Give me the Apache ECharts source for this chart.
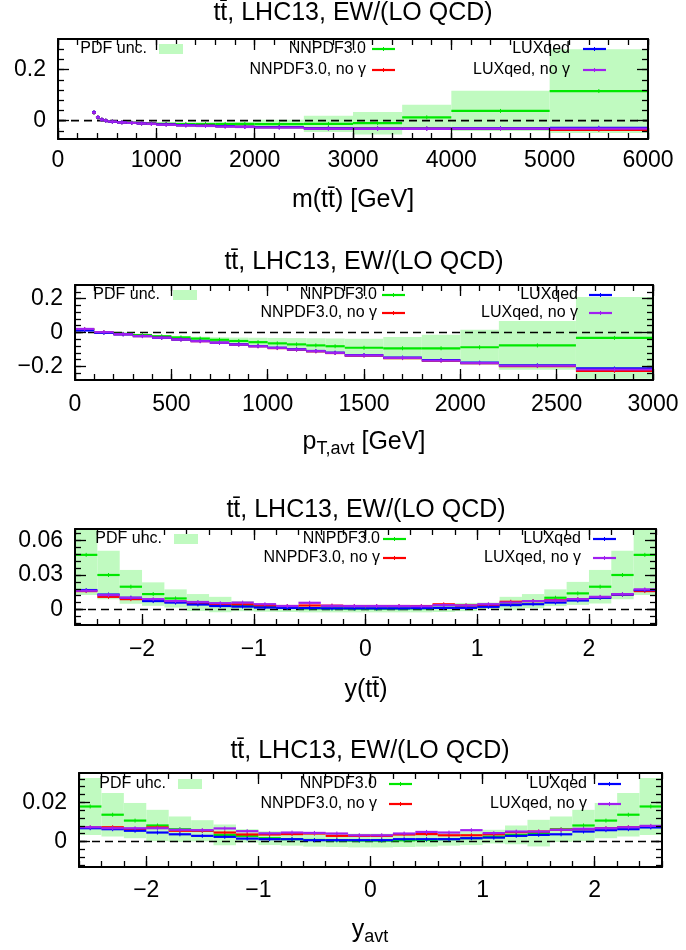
<!DOCTYPE html>
<html><head><meta charset="utf-8">
<script src="https://cdn.jsdelivr.net/npm/echarts@6/dist/echarts.min.js"></script>
<style>html,body{margin:0;padding:0;background:#fff}#c{width:686px;height:950px}</style>
</head><body><div id="c"></div>
<script>
// ---------- Panel 1 : m(tt) ----------
const mEdges   = [346,386,426,466,506,600,700,800,900,1000,1200,1400,1600,1800,2000,2500,3000,3500,4000,5000,6000];
const mNNPDF   = [0.031,0.012,0.004,0.000,-0.004,-0.006,-0.008,-0.010,-0.011,-0.012,-0.013,-0.013,-0.013,-0.013,-0.014,-0.013,-0.010,0.013,0.038,0.116];
const mNNPDFng = [0.032,0.013,0.004,0.000,-0.004,-0.007,-0.009,-0.011,-0.012,-0.015,-0.018,-0.020,-0.022,-0.024,-0.026,-0.030,-0.031,-0.031,-0.031,-0.036];
const mLUX     = [0.033,0.013,0.004,0.000,-0.004,-0.007,-0.009,-0.011,-0.012,-0.015,-0.018,-0.020,-0.022,-0.024,-0.026,-0.030,-0.031,-0.031,-0.030,-0.028];
const mLUXng   = [0.032,0.013,0.004,0.000,-0.004,-0.007,-0.009,-0.011,-0.013,-0.016,-0.019,-0.021,-0.023,-0.025,-0.027,-0.031,-0.032,-0.032,-0.031,-0.031];
const mBandLo  = [0.029,0.010,0.002,-0.002,-0.006,-0.008,-0.010,-0.012,-0.013,-0.015,-0.017,-0.018,-0.019,-0.021,-0.031,-0.045,-0.054,-0.036,-0.041,-0.048];
const mBandHi  = [0.033,0.014,0.006,0.002,-0.002,-0.004,-0.006,-0.008,-0.009,-0.009,-0.009,-0.008,-0.007,-0.005,0.003,0.019,0.034,0.062,0.117,0.280];
const mXTicks  = [0,1000,2000,3000,4000,5000,6000];
const mXLabels = ['0','1000','2000','3000','4000','5000','6000'];
const mYTicks  = [0,0.2];
const mYLabels = ['0','0.2'];

// ---------- Panel 2 : pT,avt ----------
const pEdges   = [0,100,200,300,400,500,600,700,800,900,1000,1100,1200,1300,1400,1600,1800,2000,2200,2600,3000];
const pNNPDF   = [0.018,0.000,-0.008,-0.015,-0.022,-0.029,-0.036,-0.043,-0.050,-0.057,-0.064,-0.070,-0.076,-0.081,-0.090,-0.093,-0.093,-0.087,-0.076,-0.032];
const pNNPDFng = [0.020,0.001,-0.010,-0.021,-0.031,-0.041,-0.051,-0.061,-0.071,-0.081,-0.092,-0.101,-0.111,-0.121,-0.136,-0.151,-0.166,-0.181,-0.198,-0.226];
const pLUX     = [0.012,-0.002,-0.011,-0.021,-0.031,-0.041,-0.050,-0.060,-0.070,-0.080,-0.090,-0.099,-0.109,-0.119,-0.133,-0.148,-0.163,-0.178,-0.193,-0.212];
const pLUXng   = [0.021,0.002,-0.010,-0.021,-0.031,-0.041,-0.051,-0.061,-0.071,-0.081,-0.091,-0.100,-0.110,-0.120,-0.135,-0.150,-0.165,-0.180,-0.196,-0.218];
const pBandLo  = [0.015,-0.003,-0.011,-0.020,-0.029,-0.038,-0.047,-0.058,-0.070,-0.083,-0.096,-0.107,-0.118,-0.127,-0.143,-0.159,-0.173,-0.190,-0.220,-0.273];
const pBandHi  = [0.021,0.003,-0.005,-0.010,-0.015,-0.020,-0.025,-0.028,-0.030,-0.031,-0.032,-0.033,-0.034,-0.035,-0.037,-0.027,-0.013,0.016,0.068,0.209];
const pXTicks  = [0,500,1000,1500,2000,2500,3000];
const pXLabels = ['0','500','1000','1500','2000','2500','3000'];
const pYTicks  = [-0.2,0,0.2];
const pYLabels = ['\u22120.2','0','0.2'];

// ---------- Panel 3 : y(tt) ----------
const yEdges   = [-2.6,-2.4,-2.2,-2.0,-1.8,-1.6,-1.4,-1.2,-1.0,-0.8,-0.6,-0.4,-0.2,0,0.2,0.4,0.6,0.8,1.0,1.2,1.4,1.6,1.8,2.0,2.2,2.4,2.6];
const yNNPDF   = [0.0475,0.030,0.0198,0.0134,0.0096,0.006,0.0043,0.003,0.0023,0.0014,0.001,0.0008,0.0007,0.0007,0.0008,0.001,0.0014,0.0022,0.0032,0.0052,0.0073,0.0102,0.014,0.0198,0.030,0.0475];
const yNNPDFng = [0.016,0.011,0.009,0.008,0.0067,0.0052,0.0046,0.0045,0.0035,0.003,0.0035,0.0033,0.003,0.003,0.003,0.003,0.0045,0.0035,0.0038,0.0067,0.0073,0.008,0.009,0.0105,0.013,0.016];
const yLUX     = [0.0169,0.013,0.0102,0.0073,0.006,0.0043,0.003,0.0025,0.0017,0.0014,0.0012,0.001,0.001,0.001,0.001,0.0012,0.0014,0.0014,0.0023,0.0038,0.0046,0.006,0.0078,0.0102,0.013,0.0169];
const yLUXng   = [0.0163,0.0125,0.0102,0.009,0.0073,0.0065,0.0055,0.006,0.0046,0.003,0.0058,0.0032,0.003,0.003,0.003,0.0028,0.0038,0.0035,0.0046,0.006,0.0073,0.0078,0.009,0.011,0.0134,0.0175];
const yBandLo  = [0.0125,0.009,0.005,0.0032,0.0017,-0.0014,-0.0024,-0.0015,-0.002,-0.0022,-0.0025,-0.0025,-0.0025,-0.0025,-0.0025,-0.0025,-0.0022,-0.0015,0.0004,-0.0006,0.0012,0.0029,0.004,0.0052,0.009,0.0125];
const yBandHi  = [0.0825,0.051,0.0344,0.0236,0.0175,0.0134,0.011,0.0073,0.005,0.0038,0.0035,0.0033,0.0032,0.0032,0.0033,0.0035,0.0044,0.0057,0.006,0.011,0.0134,0.0175,0.024,0.0344,0.051,0.0825];
const yXTicks  = [-2,-1,0,1,2];
const yXLabels = ['\u22122','\u22121','0','1','2'];
const yYTicks  = [0,0.03,0.06];
const yYLabels = ['0','0.03','0.06'];

// ---------- Panel 4 : y_avt ----------
const aEdges   = [-2.6,-2.4,-2.2,-2.0,-1.8,-1.6,-1.4,-1.2,-1.0,-0.8,-0.6,-0.4,-0.2,0,0.2,0.4,0.6,0.8,1.0,1.2,1.4,1.6,1.8,2.0,2.2,2.4,2.6];
const aNNPDF   = [0.0179,0.0137,0.0107,0.0082,0.0063,0.0055,0.0034,0.0029,0.0017,0.0012,0.0008,0.0006,0.0005,0.0005,0.0006,0.0008,0.0012,0.0017,0.0025,0.0034,0.0043,0.0063,0.0082,0.0107,0.0137,0.0179];
const aNNPDFng = [0.0072,0.0073,0.0063,0.0072,0.0055,0.0055,0.0046,0.0036,0.0036,0.0038,0.0041,0.0029,0.0029,0.0029,0.0036,0.0038,0.0032,0.0032,0.0037,0.0048,0.0051,0.006,0.0063,0.0068,0.0073,0.0077];
const aLUX     = [0.0068,0.0063,0.0055,0.0046,0.0037,0.0029,0.0024,0.0015,0.0012,0.0012,0.0007,0.0007,0.0007,0.0007,0.0012,0.0012,0.0012,0.0017,0.002,0.0029,0.0034,0.0037,0.0051,0.0058,0.0063,0.0072];
const aLUXng   = [0.0073,0.0068,0.0068,0.0068,0.006,0.0058,0.0067,0.0053,0.0042,0.0046,0.0044,0.0041,0.0032,0.0032,0.0041,0.0049,0.0046,0.0058,0.0043,0.0051,0.0051,0.006,0.0065,0.0068,0.0073,0.008];
const aBandLo  = [0.0033,0.0026,0.0017,0.0002,-0.0002,0.0001,-0.0019,-0.0005,-0.0018,-0.0021,-0.0026,-0.0028,-0.003,-0.003,-0.0028,-0.0026,-0.0021,-0.0018,-0.001,-0.0014,-0.0025,-0.0002,0.0002,0.0017,0.0026,0.0033];
const aBandHi  = [0.0325,0.0248,0.0197,0.0162,0.0128,0.0109,0.0087,0.0063,0.0052,0.0045,0.0042,0.004,0.004,0.004,0.004,0.0042,0.0045,0.0052,0.006,0.0082,0.0111,0.0128,0.0162,0.0197,0.0248,0.0325];
const aXTicks  = [-2,-1,0,1,2];
const aXLabels = ['\u22122','\u22121','0','1','2'];
const aYTicks  = [0,0.02];
const aYLabels = ['0','0.02'];

const legendNames = ['PDF unc.','NNPDF3.0','NNPDF3.0, no \u03b3','LUXqed','LUXqed, no \u03b3'];
const titleText = 'tt\u0304, LHC13, EW/(LO QCD)';

// ---------- styling / layout ----------
const FONT = '"Liberation Sans", Arial, Helvetica, sans-serif';
const BAND = 'rgb(192,250,192)';
const COLORS = {g:'#00e800', r:'#ff0000', b:'#0000ff', p:'#a020f0'};
const TICK_FS = 23, TITLE_FS = 25, NAME_FS = 25, LEG_FS = 16;

function range(a,b,s){const o=[];const n=Math.round((b-a)/s);for(let i=0;i<=n;i++)o.push(+(a+i*s).toFixed(6));return o;}

const panels = [
  {edges:mEdges,g:mNNPDF,r:mNNPDFng,b:mLUX,p:mLUXng,lo:mBandLo,hi:mBandHi,
   grid:{left:58,top:39,width:590,height:100},xr:[0,6000],yr:[-0.072,0.32],
   xT:mXTicks,xL:mXLabels,xM:range(0,6000,200),yT:mYTicks,yL:mYLabels,yM:range(-0.04,0.28,0.04),
   xMargin:10,title:[353,13],name:[353,200],nameRich:'{a|m(tt\u0304) [GeV]}',
   leg:{r1:49,r2:70,pdfR:147,box:159,nnR:366,nnS:372,luxR:570,luxS:583}},
  {edges:pEdges,g:pNNPDF,r:pNNPDFng,b:pLUX,p:pLUXng,lo:pBandLo,hi:pBandHi,
   grid:{left:75,top:285,width:578,height:95},xr:[0,3000],yr:[-0.28,0.28],
   xT:pXTicks,xL:pXLabels,xM:range(0,3000,100),yT:pYTicks,yL:pYLabels,yM:range(-0.24,0.24,0.04),
   xMargin:13,title:[364,262],name:[364,442],nameRich:'{a|p}{s|T,avt}{a| [GeV]}',
   leg:{r1:295,r2:313,pdfR:160,box:173,nnR:377,nnS:382,luxR:578,luxS:589}},
  {edges:yEdges,g:yNNPDF,r:yNNPDFng,b:yLUX,p:yLUXng,lo:yBandLo,hi:yBandHi,
   grid:{left:75,top:529,width:581,height:96},xr:[-2.6,2.6],yr:[-0.0135,0.07],
   xT:yXTicks,xL:yXLabels,xM:range(-2.6,2.6,0.2),yT:yYTicks,yL:yYLabels,yM:range(-0.012,0.066,0.006),
   xMargin:13,title:[366,510],name:[366,690],nameRich:'{a|y(tt\u0304)}',
   leg:{r1:539,r2:558,pdfR:162,box:174,nnR:380,nnS:383,luxR:581,luxS:593}},
  {edges:aEdges,g:aNNPDF,r:aNNPDFng,b:aLUX,p:aLUXng,lo:aBandLo,hi:aBandHi,
   grid:{left:79,top:773,width:583,height:94},xr:[-2.6,2.6],yr:[-0.013,0.035],
   xT:aXTicks,xL:aXLabels,xM:range(-2.6,2.6,0.2),yT:aYTicks,yL:aYLabels,yM:range(-0.012,0.032,0.004),
   xMargin:12,title:[370,751],name:[370,930],nameRich:'{a|y}{s|avt}',
   leg:{r1:784,r2:804,pdfR:166,box:178,nnR:377,nnS:389,luxR:587,luxS:598}}
];

function labelFor(ticks,labels){return v=>{for(let i=0;i<ticks.length;i++){if(Math.abs(v-ticks[i])<1e-9)return labels[i];}return '';};}

const grids=[],xAxes=[],yAxes=[],series=[],graphics=[];
const tickLine={color:'#000',width:1.3};
panels.forEach((P,gi)=>{
  grids.push(Object.assign({containLabel:false},P.grid));
  const xi=xAxes.length, yi=yAxes.length;
  const baseX={gridIndex:gi,type:'value',min:P.xr[0],max:P.xr[1],splitLine:{show:false},offset:0,z:20};
  const baseY={gridIndex:gi,type:'value',min:P.yr[0],max:P.yr[1],splitLine:{show:false},offset:0,z:20};
  xAxes.push(Object.assign({},baseX,{position:'bottom',
    axisLine:{show:true,onZero:false,lineStyle:{color:'#000',width:2}},
    axisTick:{show:true,inside:true,length:11,customValues:P.xT,lineStyle:tickLine},
    axisLabel:{show:true,customValues:P.xT,formatter:labelFor(P.xT,P.xL),margin:P.xMargin,fontSize:TICK_FS,color:'#000',fontFamily:FONT}}));
  xAxes.push(Object.assign({},baseX,{position:'bottom',axisLine:{show:false,onZero:false},
    axisTick:{show:true,inside:true,length:6,customValues:P.xM,lineStyle:tickLine},axisLabel:{show:false}}));
  xAxes.push(Object.assign({},baseX,{position:'top',
    axisLine:{show:true,onZero:false,lineStyle:{color:'#000',width:2}},
    axisTick:{show:true,inside:true,length:11,customValues:P.xT,lineStyle:tickLine},axisLabel:{show:false}}));
  xAxes.push(Object.assign({},baseX,{position:'top',axisLine:{show:false,onZero:false},
    axisTick:{show:true,inside:true,length:6,customValues:P.xM,lineStyle:tickLine},axisLabel:{show:false}}));
  yAxes.push(Object.assign({},baseY,{position:'left',
    axisLine:{show:true,onZero:false,lineStyle:{color:'#000',width:2}},
    axisTick:{show:true,inside:true,length:11,customValues:P.yT,lineStyle:tickLine},
    axisLabel:{show:true,customValues:P.yT,formatter:labelFor(P.yT,P.yL),margin:12,fontSize:TICK_FS,color:'#000',fontFamily:FONT}}));
  yAxes.push(Object.assign({},baseY,{position:'left',axisLine:{show:false,onZero:false},
    axisTick:{show:true,inside:true,length:6,customValues:P.yM,lineStyle:tickLine},axisLabel:{show:false}}));
  yAxes.push(Object.assign({},baseY,{position:'right',
    axisLine:{show:true,onZero:false,lineStyle:{color:'#000',width:2}},
    axisTick:{show:true,inside:true,length:11,customValues:P.yT,lineStyle:tickLine},axisLabel:{show:false}}));
  yAxes.push(Object.assign({},baseY,{position:'right',axisLine:{show:false,onZero:false},
    axisTick:{show:true,inside:true,length:6,customValues:P.yM,lineStyle:tickLine},axisLabel:{show:false}}));

  const n=P.edges.length-1;
  const bandData=[];for(let i=0;i<n;i++)bandData.push([P.edges[i],P.edges[i+1],P.lo[i],P.hi[i]]);
  series.push({type:'custom',xAxisIndex:xi,yAxisIndex:yi,z:1,silent:true,data:bandData,encode:{x:[0,1],y:[2,3]},
    renderItem:(params,api)=>{
      const a=api.coord([api.value(0),api.value(3)]),b=api.coord([api.value(1),api.value(2)]);
      const cs=params.coordSys;
      const r=echarts.graphic.clipRectByRect({x:a[0],y:a[1],width:b[0]-a[0],height:b[1]-a[1]},{x:cs.x,y:cs.y,width:cs.width,height:cs.height});
      if(!r)return null;
      return {type:'rect',shape:r,style:{fill:BAND}};
    }});
  series.push({type:'line',xAxisIndex:xi,yAxisIndex:yi,z:2,silent:true,symbol:'none',
    data:[[P.xr[0],0],[P.xr[1],0]],lineStyle:{color:'#000',width:1.6,type:[8,5]}});
  [['g',P.g],['r',P.r],['b',P.b],['p',P.p]].forEach(([k,vals],si)=>{
    const d=[];for(let i=0;i<n;i++)d.push([P.edges[i],P.edges[i+1],vals[i]]);
    const col=COLORS[k];
    series.push({type:'custom',xAxisIndex:xi,yAxisIndex:yi,z:3+si,silent:true,data:d,encode:{x:[0,1],y:2},
      renderItem:(params,api)=>{
        const a=api.coord([api.value(0),api.value(2)]),b=api.coord([api.value(1),api.value(2)]);
        const cx=(a[0]+b[0])/2;
        return {type:'group',children:[
          {type:'line',shape:{x1:a[0],y1:a[1],x2:b[0],y2:b[1]},style:{stroke:col,lineWidth:2.2}},
          {type:'line',shape:{x1:cx,y1:a[1]-2,x2:cx,y2:a[1]+2},style:{stroke:col,lineWidth:1}}
        ]};
      }});
  });

  const Z=100;
  graphics.push({type:'text',z:Z,x:P.title[0],y:P.title[1],style:{text:titleText,font:TITLE_FS+'px '+FONT,fill:'#000',align:'center',verticalAlign:'middle',textAlign:'center',textVerticalAlign:'middle'}});
  graphics.push({type:'text',z:Z,x:P.name[0],y:P.name[1],style:{text:P.nameRich,fill:'#000',align:'center',verticalAlign:'middle',textAlign:'center',textVerticalAlign:'middle',
    rich:{a:{fontSize:NAME_FS,fontFamily:FONT,fill:'#000',color:'#000'},s:{fontSize:18,fontFamily:FONT,fill:'#000',color:'#000',padding:[15,0,0,0]}}}});
  const L=P.leg, lf=LEG_FS+'px '+FONT;
  const txt=(x,y,t)=>({type:'text',z:Z,x:x,y:y,style:{text:t,font:lf,fill:'#000',align:'right',verticalAlign:'middle',textAlign:'right',textVerticalAlign:'middle'}});
  const samp=(x,y,c)=>([{type:'line',z:Z,shape:{x1:x,y1:y,x2:x+23,y2:y},style:{stroke:c,lineWidth:2.2}},
                        {type:'line',z:Z,shape:{x1:x+11.5,y1:y-2,x2:x+11.5,y2:y+2},style:{stroke:c,lineWidth:1}}]);
  graphics.push(txt(L.pdfR,L.r1,legendNames[0]));
  graphics.push({type:'rect',z:Z,shape:{x:L.box,y:L.r1-5,width:24,height:10},style:{fill:BAND}});
  graphics.push(txt(L.nnR,L.r1,legendNames[1])); graphics.push(...samp(L.nnS,L.r1,COLORS.g));
  graphics.push(txt(L.nnR,L.r2,legendNames[2])); graphics.push(...samp(L.nnS,L.r2,COLORS.r));
  graphics.push(txt(L.luxR,L.r1,legendNames[3])); graphics.push(...samp(L.luxS,L.r1,COLORS.b));
  graphics.push(txt(L.luxR,L.r2,legendNames[4])); graphics.push(...samp(L.luxS,L.r2,COLORS.p));
});

const chart=echarts.init(document.getElementById('c'),null,{renderer:'canvas',width:686,height:950});
chart.setOption({animation:false,backgroundColor:'#fff',grid:grids,xAxis:xAxes,yAxis:yAxes,series:series,graphic:{elements:graphics}});
</script></body></html>
